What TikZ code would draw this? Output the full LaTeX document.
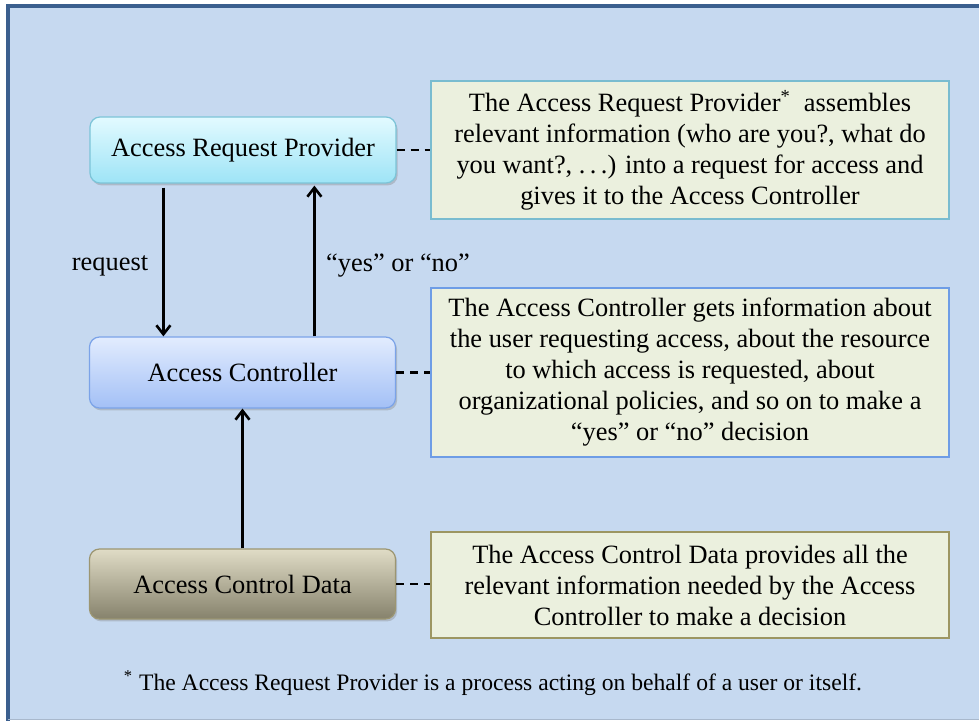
\documentclass[tikz,border=0pt]{standalone}
\usepackage{fontspec}
\setmainfont{Liberation Serif}
\usetikzlibrary{arrows.meta,shadows,calc}
\definecolor{bgblue}{HTML}{C6D9F0}
\definecolor{framec}{HTML}{3B5F8E}
\definecolor{arptop}{HTML}{E2FAFF}
\definecolor{arpbot}{HTML}{9EE4F6}
\definecolor{arpdraw}{HTML}{7CC4D8}
\definecolor{actop}{HTML}{E2ECFE}
\definecolor{acbot}{HTML}{A3C0F6}
\definecolor{acdraw}{HTML}{7BA3E8}
\definecolor{acdtop}{HTML}{E0DCC6}
\definecolor{acdbot}{HTML}{86826C}
\definecolor{acddraw}{HTML}{9C9672}
\definecolor{notefill}{HTML}{EBF0DE}
\definecolor{note1draw}{HTML}{79BCD0}
\definecolor{note2draw}{HTML}{6E9DE6}
\definecolor{note3draw}{HTML}{9C9662}
\tikzset{
  procbox/.style={rounded corners=5pt, minimum width=153pt, inner sep=0pt,
    font=\fontsize{13.2}{15.5}\selectfont, line width=0.6pt,
    drop shadow={shadow xshift=0.8pt, shadow yshift=-1.2pt, opacity=0.35}},
  notebox/.style={fill=notefill, line width=0.6pt, minimum width=259pt, inner sep=0pt,
    align=center, font=\fontsize{13.2}{15.5}\selectfont},
  flow/.style={line width=1.3pt, -{Straight Barb[length=4.5pt,width=7pt,line width=1.3pt]}},
  dashlink/.style={line width=1.3pt, dash pattern=on 4pt off 3pt},
  lbl/.style={font=\fontsize{13.2}{15.5}\selectfont, inner sep=0pt}
}
\begin{document}
\begin{tikzpicture}[x=0.5pt,y=-0.5pt]
\useasboundingbox (0,0) rectangle (979,721);
\fill[bgblue] (6,5) rectangle (979,719);
\draw[framec, line width=1.6pt] (8,721) -- (8,6) -- (979,6);
\draw[bgblue!85!black, line width=0.5pt] (8,719.5) -- (979,719.5);

\node[procbox, minimum height=33pt, top color=arptop, bottom color=arpbot, draw=arpdraw] (arp) at (243,150) {Access Request Provider};
\node[procbox, minimum height=35.5pt, top color=actop, bottom color=acbot, draw=acdraw] (ac) at (242.5,372.5) {Access Controller};
\node[procbox, minimum height=35pt, top color=acdtop, bottom color=acdbot, draw=acddraw] (acd) at (242.5,584) {Access Control Data};

\node[notebox, draw=note1draw, minimum height=69pt] (n1) at (690,150) {The Access Request Provider\textsuperscript{*}\ \ assembles\\relevant information (who are you?, what do\\you want?, .\,.\,.) into a request for access and\\gives it to the Access Controller};
\node[notebox, draw=note2draw, minimum height=84.5pt] (n2) at (690,372.5) {The Access Controller gets information about\\the user requesting access, about the resource\\to which access is requested, about\\organizational policies, and so on to make a\\“yes” or “no” decision};
\node[notebox, draw=note3draw, minimum height=53pt] (n3) at (690,585) {The Access Control Data provides all the\\relevant information needed by the Access\\Controller to make a decision};

\coordinate (rqs) at ($(arp.south west)+(74,4)$);
\coordinate (yns) at ($(arp.south west)+(225,2)$);
\draw[flow] (rqs) -- (rqs |- ac.north);
\draw[flow] (yns |- ac.north) -- (yns);
\draw[flow] (acd.north) -- (ac.south);

\node[lbl] (rql) at (110,266) {request};
\node[lbl] (ynl) at (398,266) {“yes” or “no”};

\draw[dashlink] (arp.east) -- (n1.west |- arp.east);
\draw[dashlink] (ac.east) -- (n2.west |- ac.east);
\draw[dashlink] (acd.east) -- (n3.west |- acd.east);

\node[font=\fontsize{11.8}{14}\selectfont, inner sep=0pt] (foot) at (493,683) {\textsuperscript{*} The Access Request Provider is a process acting on behalf of a user or itself.};
\end{tikzpicture}
\end{document}
